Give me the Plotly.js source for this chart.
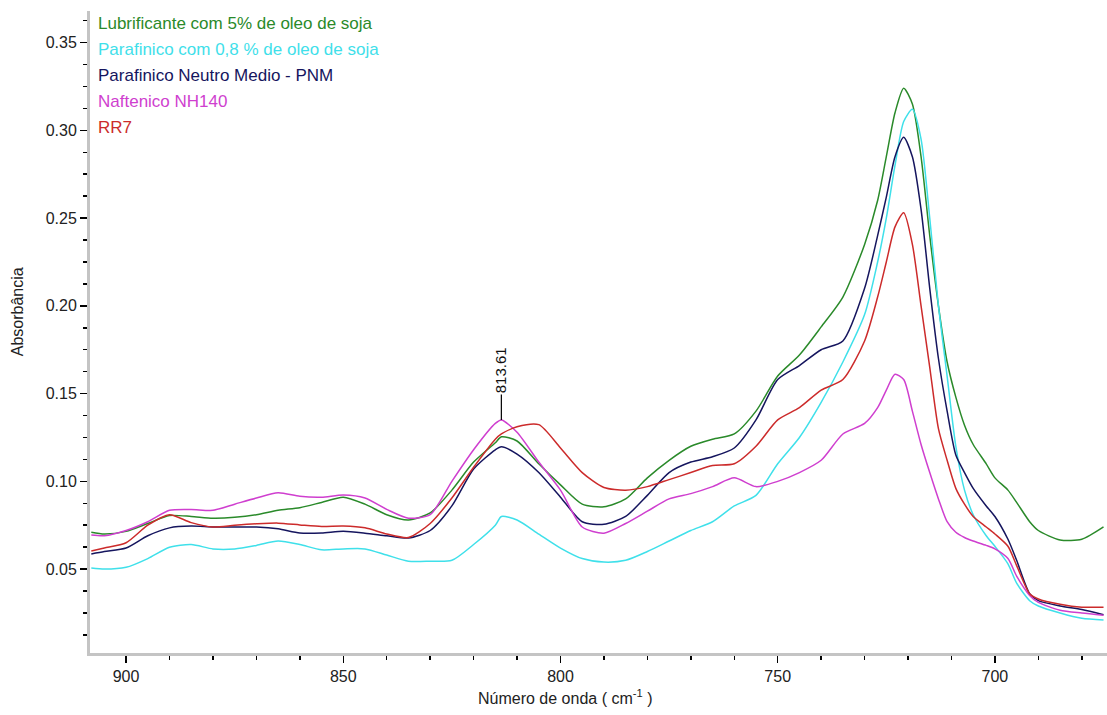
<!DOCTYPE html>
<html>
<head>
<meta charset="utf-8">
<script src="https://cdn.plot.ly/plotly-3.0.1.min.js"></script>
<style>html,body{margin:0;padding:0;background:#fff;}#chart{width:1107px;height:715px;}</style>
</head>
<body>
<div id="chart"></div>
<script>
// Wavenumber grid (cm-1)
const waveNumbers = [908, 905, 900, 895, 890, 885, 880, 875, 870, 865, 860, 855, 850, 845, 840, 835, 830, 825, 820, 815, 813.6, 810, 805, 800, 795, 790, 785, 780, 775, 770, 765, 760, 755, 750, 745, 740, 735, 730, 727, 725, 723, 721, 719, 717, 715, 713, 711, 709, 707, 705, 702, 700, 697, 695, 692, 690, 685, 680, 675];

const lubrificante5 = [0.071, 0.070, 0.0715, 0.076, 0.0805, 0.080, 0.079, 0.0795, 0.081, 0.0835, 0.085, 0.088, 0.091, 0.087, 0.081, 0.078, 0.082, 0.095, 0.111, 0.122, 0.1254, 0.123, 0.110, 0.098, 0.087, 0.0855, 0.090, 0.102, 0.112, 0.120, 0.124, 0.127, 0.140, 0.160, 0.172, 0.188, 0.205, 0.235, 0.260, 0.285, 0.310, 0.324, 0.315, 0.285, 0.240, 0.200, 0.168, 0.148, 0.132, 0.121, 0.110, 0.102, 0.095, 0.088, 0.077, 0.072, 0.0666, 0.067, 0.074];

const parafinico08 = [0.0506, 0.050, 0.051, 0.056, 0.0625, 0.064, 0.0615, 0.0615, 0.0635, 0.066, 0.064, 0.061, 0.0615, 0.0615, 0.058, 0.0545, 0.0545, 0.055, 0.064, 0.075, 0.080, 0.078, 0.070, 0.062, 0.056, 0.054, 0.055, 0.060, 0.066, 0.072, 0.077, 0.086, 0.092, 0.110, 0.125, 0.145, 0.168, 0.195, 0.225, 0.250, 0.280, 0.305, 0.312, 0.295, 0.250, 0.200, 0.160, 0.120, 0.095, 0.081, 0.069, 0.063, 0.053, 0.042, 0.032, 0.029, 0.025, 0.022, 0.021];

const parafinicoPNM = [0.0586, 0.060, 0.062, 0.069, 0.0735, 0.0745, 0.074, 0.074, 0.074, 0.073, 0.0706, 0.0706, 0.0715, 0.0705, 0.069, 0.0677, 0.072, 0.086, 0.107, 0.118, 0.1197, 0.1155, 0.105, 0.091, 0.077, 0.0755, 0.080, 0.092, 0.105, 0.111, 0.114, 0.119, 0.135, 0.158, 0.166, 0.175, 0.180, 0.210, 0.240, 0.262, 0.285, 0.296, 0.285, 0.255, 0.210, 0.170, 0.140, 0.115, 0.105, 0.096, 0.086, 0.080, 0.067, 0.055, 0.036, 0.032, 0.029, 0.027, 0.024];

const naftenicoNH140 = [0.0694, 0.069, 0.072, 0.077, 0.0835, 0.084, 0.0835, 0.087, 0.0905, 0.0935, 0.0915, 0.091, 0.0922, 0.0905, 0.084, 0.079, 0.081, 0.100, 0.118, 0.133, 0.135, 0.128, 0.111, 0.095, 0.074, 0.0705, 0.076, 0.083, 0.090, 0.093, 0.097, 0.102, 0.097, 0.100, 0.105, 0.112, 0.127, 0.133, 0.142, 0.152, 0.161, 0.158, 0.140, 0.121, 0.105, 0.090, 0.077, 0.071, 0.068, 0.066, 0.0635, 0.0615, 0.056, 0.046, 0.035, 0.031, 0.0266, 0.025, 0.0237];

const rr7 = [0.0603, 0.062, 0.065, 0.075, 0.081, 0.0765, 0.074, 0.075, 0.0758, 0.0762, 0.0752, 0.0743, 0.0745, 0.0735, 0.070, 0.068, 0.076, 0.0905, 0.108, 0.124, 0.127, 0.1311, 0.1323, 0.119, 0.105, 0.0965, 0.095, 0.097, 0.101, 0.105, 0.109, 0.110, 0.120, 0.135, 0.142, 0.152, 0.158, 0.180, 0.205, 0.225, 0.245, 0.253, 0.235, 0.200, 0.165, 0.130, 0.112, 0.096, 0.087, 0.080, 0.074, 0.070, 0.063, 0.052, 0.036, 0.033, 0.030, 0.0283, 0.0283];

const seriesNames = ["Lubrificante com 5% de oleo de soja", "Parafinico com 0,8 % de oleo de soja", "Parafinico Neutro Medio - PNM", "Naftenico NH140", "RR7"];
const seriesValues = [lubrificante5, parafinico08, parafinicoPNM, naftenicoNH140, rr7];
const seriesColors = ["#2a8a2a", "#3fe0ea", "#15155e", "#cf3fcf", "#cc2b2b"];

const peakWave = 813.61;
const peakLabel = "813.61";
const xTitle = "Número de onda ( cm<sup>-1</sup> )";
const yTitle = "Absorbância";

const font = "Liberation Sans, Arial, sans-serif";

const traces = seriesValues.map((vals, i) => ({
  x: waveNumbers, y: vals, type: 'scatter', mode: 'lines',
  name: seriesNames[i], line: {color: seriesColors[i], width: 1.5, shape: 'spline', smoothing: 0.7}, showlegend: false
}));

const peakIdx = waveNumbers.indexOf(813.6);
const annotations = seriesNames.map((n, i) => ({
  xref: 'paper', yref: 'paper', x: 0.006, y: 1 - (12 + 26 * i) / 642,
  xanchor: 'left', yanchor: 'middle', showarrow: false, text: n,
  font: {family: font, size: 17, color: seriesColors[i]}
}));
annotations.push({
  x: peakWave, y: naftenicoNH140[peakIdx], xref: 'x', yref: 'y',
  text: peakLabel, textangle: -90, showarrow: true, arrowhead: 0, arrowwidth: 1.2,
  arrowcolor: '#000', ax: 0, ay: -50, font: {family: font, size: 15, color: '#111'}
});
annotations.push({
  xref: 'paper', yref: 'paper', x: 0.467, y: -0.068, xanchor: 'center', yanchor: 'middle',
  showarrow: false, text: xTitle, font: {family: font, size: 16, color: '#222'}
});
annotations.push({
  xref: 'paper', yref: 'paper', x: -0.071, y: 0.532, xanchor: 'center', yanchor: 'middle',
  showarrow: false, text: yTitle, textangle: -90, font: {family: font, size: 16, color: '#222'}
});

const layout = {
  width: 1107, height: 715,
  margin: {l: 90, r: 0, t: 11, b: 62},
  paper_bgcolor: '#fff', plot_bgcolor: '#fff',
  xaxis: {
    range: [908.3, 674.2], dtick: 50, tick0: 900,
    showgrid: false, zeroline: false,
    showline: true, linecolor: '#c4c4c4', linewidth: 3,
    ticks: 'outside', ticklen: 7, tickwidth: 1.5, tickcolor: '#000',
    minor: {dtick: 10, ticks: 'outside', ticklen: 4, tickwidth: 1.5, tickcolor: '#000', showgrid: false},
    tickfont: {family: font, size: 16, color: '#222'}
  },
  yaxis: {
    range: [0.0022, 0.368], dtick: 0.05, tick0: 0, tickformat: '.2f',
    showgrid: false, zeroline: false,
    showline: true, linecolor: '#c4c4c4', linewidth: 3,
    ticks: 'outside', ticklen: 7, tickwidth: 1.5, tickcolor: '#000',
    minor: {dtick: 0.0125, ticks: 'outside', ticklen: 4, tickwidth: 1.5, tickcolor: '#000', showgrid: false},
    tickfont: {family: font, size: 16, color: '#222'}
  },
  annotations: annotations
};

Plotly.newPlot('chart', traces, layout, {displayModeBar: false, staticPlot: true});
</script>
</body>
</html>
